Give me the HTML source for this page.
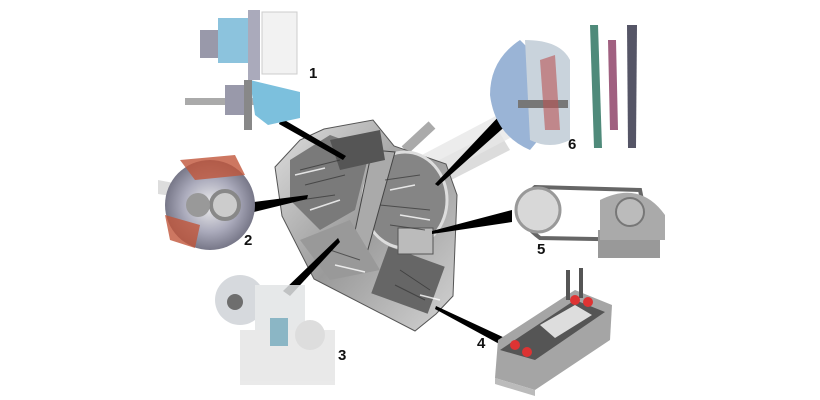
<!DOCTYPE html>
<html><head><style>
html,body{margin:0;padding:0;background:#fff;width:820px;height:400px;overflow:hidden}
svg{display:block}
text{font-family:"Liberation Sans",sans-serif;font-weight:bold;font-size:15px;fill:#111}
</style></head><body>
<svg width="820" height="400" viewBox="0 0 820 400" xmlns="http://www.w3.org/2000/svg">
<defs>
<linearGradient id="body" x1="0" y1="0" x2="1" y2="1">
<stop offset="0" stop-color="#e0e0e0"/><stop offset="0.5" stop-color="#9a9a9a"/><stop offset="1" stop-color="#d4d4d4"/></linearGradient>
<radialGradient id="disc"><stop offset="0" stop-color="#eee"/><stop offset="0.6" stop-color="#aab"/><stop offset="1" stop-color="#778"/></radialGradient>
</defs>
<path d="M400 180 L498 130 L510 150 L412 200 Z" fill="#dcdcdc"/>
<path d="M425 168 L520 118" stroke="#e8e8e8" stroke-width="26" stroke-linecap="round" opacity="0.8"/>
<path d="M405 150 L432 125" stroke="#aaa" stroke-width="10"/>
<path d="M158 180 L200 188 L198 200 L158 194 Z" fill="#ddd"/>
<path d="M275 167 L300 140 L324 129 L373 120 L394 146 L446 164 L457 195 L453 296 L436 314 L415 331 L314 279 L282 216 Z" fill="url(#body)" stroke="#555" stroke-width="1"/>
<path d="M290 160 L330 135 L370 150 L355 210 L320 230 L290 200 Z" fill="#7a7a7a"/>
<ellipse cx="405" cy="200" rx="42" ry="48" fill="#858585" stroke="#ddd" stroke-width="3"/>
<path d="M372 150 L395 152 L365 260 L350 255 Z" fill="#aaa" stroke="#444"/>
<path d="M330 140 L380 130 L385 160 L340 170 Z" fill="#555"/>
<rect x="378" y="255" width="60" height="50" fill="#666" transform="rotate(20 408 280)"/>
<rect x="398" y="228" width="35" height="26" fill="#bbb" stroke="#555"/>
<path d="M300 240 L350 220 L380 270 L330 280 Z" fill="#999"/>
<g stroke="#333" stroke-width="1" fill="none" opacity="0.7">
<path d="M300 170 L340 160 M305 185 L345 175 M300 200 L335 195 M385 180 L420 175 M380 205 L430 210 M390 225 L425 230 M400 270 L430 290 M395 285 L425 300 M330 250 L360 260"/>
</g>
<g stroke="#fff" stroke-width="1.5" fill="none" opacity="0.8">
<path d="M295 175 L325 168 M310 210 L340 200 M390 190 L415 185 M400 215 L430 220 M335 265 L365 272 M420 295 L440 300"/>
</g>
<g fill="#000">
<path d="M281 118 L346 156 L343 160 L279 124 Z"/>
<path d="M254 202 L308 195 L307 199 L254 212 Z"/>
<path d="M283 291 L338 238 L340 242 L290 296 Z"/>
<path d="M436 306 L518 344 L514 352 L435 309 Z"/>
<path d="M512 210 L432 231 L432 234 L512 222 Z"/>
<path d="M502 113 L435 184 L438 186 L510 122 Z"/>
</g>
<g>
<rect x="200" y="30" width="22" height="28" fill="#99a"/>
<rect x="218" y="18" width="30" height="45" fill="#8cc3dd"/>
<rect x="248" y="10" width="12" height="70" fill="#aab"/>
<rect x="262" y="12" width="35" height="62" fill="#f2f2f2" stroke="#ccc"/>
<rect x="185" y="98" width="95" height="7" fill="#aaa"/>
<rect x="225" y="85" width="25" height="30" fill="#99a"/>
<path d="M250 80 L300 92 L300 118 L268 125 L255 115 Z" fill="#7cc0dd"/>
<rect x="244" y="80" width="8" height="50" fill="#888"/>
</g>
<text x="309" y="78">1</text>
<g>
<circle cx="210" cy="205" r="45" fill="url(#disc)"/>
<circle cx="225" cy="205" r="14" fill="#ccc" stroke="#888" stroke-width="4"/>
<path d="M180 160 L235 155 L245 175 L195 180 Z" fill="#c0553a" opacity="0.8"/>
<path d="M165 215 L200 225 L195 248 L170 240 Z" fill="#c0553a" opacity="0.8"/>
<circle cx="198" cy="205" r="12" fill="#999"/>
</g>
<text x="244" y="245">2</text>
<g opacity="0.85">
<circle cx="240" cy="300" r="25" fill="#cfd3d8"/>
<circle cx="235" cy="302" r="8" fill="#555"/>
<rect x="255" y="285" width="50" height="45" fill="#e2e4e6"/>
<rect x="240" y="330" width="95" height="55" fill="#e6e6e6"/>
<rect x="270" y="318" width="18" height="28" fill="#7ab"/>
<circle cx="310" cy="335" r="15" fill="#d8d8d8"/>
</g>
<text x="338" y="360">3</text>
<g>
<path d="M498 340 L575 290 L612 305 L610 340 L535 390 L495 378 Z" fill="#a5a5a5"/>
<path d="M500 350 L575 300 L605 312 L535 360 Z" fill="#555"/>
<path d="M540 325 L575 305 L592 315 L555 338 Z" fill="#ddd"/>
<rect x="566" y="270" width="4" height="30" fill="#555"/>
<rect x="579" y="268" width="4" height="30" fill="#555"/>
<circle cx="515" cy="345" r="5" fill="#d33"/><circle cx="527" cy="352" r="5" fill="#d33"/>
<circle cx="575" cy="300" r="5" fill="#d33"/><circle cx="588" cy="302" r="5" fill="#d33"/>
<path d="M495 378 L535 390 L535 396 L495 384 Z" fill="#bbb"/>
</g>
<text x="477" y="348">4</text>
<g>
<path d="M535 187 L640 190 L650 240 L540 238 Q505 212 535 187 Z" fill="none" stroke="#666" stroke-width="4"/>
<circle cx="538" cy="210" r="22" fill="#d8d8d8" stroke="#999" stroke-width="3"/>
<rect x="598" y="230" width="62" height="28" fill="#999"/>
<path d="M600 200 Q640 180 665 215 L665 240 L600 240 Z" fill="#aaa"/>
<circle cx="630" cy="212" r="14" fill="#bbb" stroke="#777" stroke-width="2"/>
</g>
<text x="537" y="254">5</text>
<g>
<path d="M520 40 Q490 60 490 95 Q495 135 530 150 L555 120 L540 60 Z" fill="#9ab4d6"/>
<path d="M525 40 Q560 40 570 60 L570 140 Q550 150 530 140 Z" fill="#c9d3dc"/>
<rect x="518" y="100" width="50" height="8" fill="#777"/>
<path d="M540 60 L555 55 L560 130 L545 130 Z" fill="#b55" opacity="0.6"/>
<path d="M590 25 L598 25 L602 148 L594 148 Z" fill="#4f8a7a"/>
<path d="M608 40 L616 40 L618 130 L610 130 Z" fill="#a06080"/>
<path d="M627 25 L637 25 L636 148 L628 148 Z" fill="#556"/>
</g>
<text x="568" y="149">6</text>
</svg>
</body></html>
